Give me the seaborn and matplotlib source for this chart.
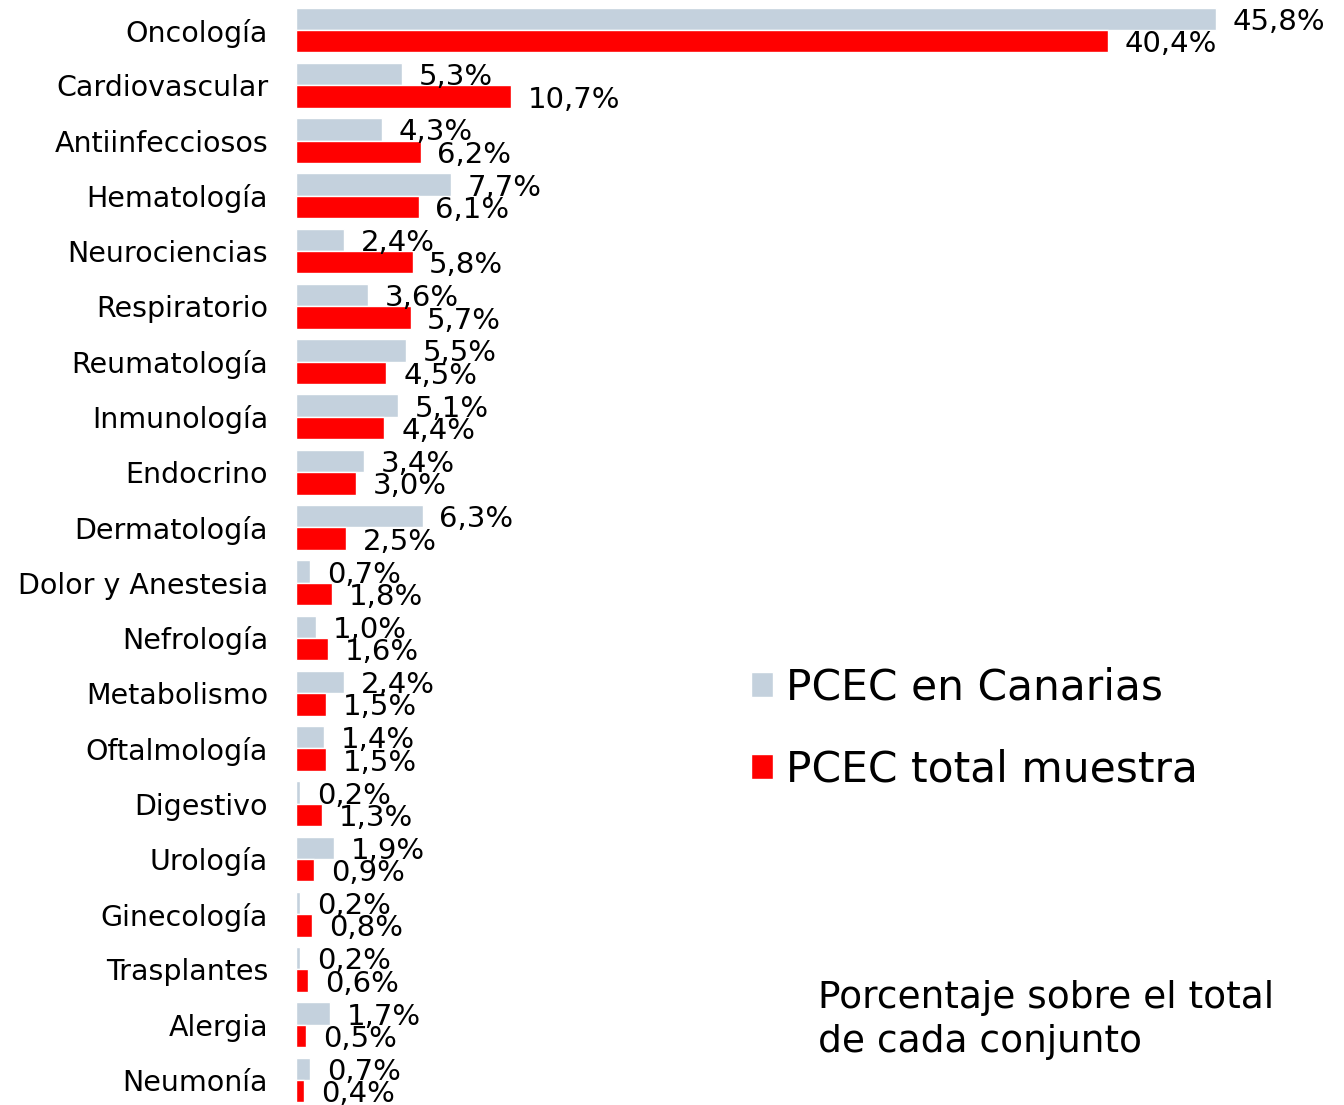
import numpy as np
import pandas as pd
import matplotlib
matplotlib.use("Agg")
import matplotlib.pyplot as plt
import seaborn as sns

categories = ["Oncología", "Cardiovascular", "Antiinfecciosos", "Hematología",
              "Neurociencias", "Respiratorio", "Reumatología", "Inmunología",
              "Endocrino", "Dermatología", "Dolor y Anestesia", "Nefrología",
              "Metabolismo", "Oftalmología", "Digestivo", "Urología",
              "Ginecología", "Trasplantes", "Alergia", "Neumonía"]
canarias = [45.8, 5.3, 4.3, 7.7, 2.4, 3.6, 5.5, 5.1, 3.4, 6.3,
            0.7, 1.0, 2.4, 1.4, 0.2, 1.9, 0.2, 0.2, 1.7, 0.7]
total = [40.4, 10.7, 6.2, 6.1, 5.8, 5.7, 4.5, 4.4, 3.0, 2.5,
         1.8, 1.6, 1.5, 1.5, 1.3, 0.9, 0.8, 0.6, 0.5, 0.4]
series = ["PCEC en Canarias", "PCEC total muestra"]
colors = ["#c4d1dd", "#ff0000"]

df = pd.DataFrame({
    "categoria": categories * 2,
    "valor": canarias + total,
    "serie": [series[0]] * len(categories) + [series[1]] * len(categories),
})

sns.set_style("white")
plt.rcParams['font.family'] = ['DejaVu Sans']
plt.rcParams['text.color'] = 'black'
plt.rcParams['ytick.color'] = 'black'

fig = plt.figure(figsize=(13.44, 11.05), dpi=100)
ax = fig.add_axes([296 / 1344, 2.9 / 1105, 1004.5 / 1344, 1099.7 / 1105])

sns.barplot(data=df, x="valor", y="categoria", hue="serie", orient="h",
            palette=colors, width=0.81, ax=ax, saturation=1)

for cont, vals in zip(ax.containers, [canarias, total]):
    txts = ax.bar_label(cont, labels=[f"{v:.1f}%".replace(".", ",") for v in vals],
                        padding=12, fontsize=21, color="black")
    # labels sit a touch below the bar centre in the original
    for t in txts:
        t.xyann = (12, -2.2)

ax.set_xlim(0, 50)
ax.set_ylim(19.4, -0.5)
ax.set_xlabel("")
ax.set_ylabel("")
ax.set_xticks([])
ax.tick_params(axis="y", length=0, pad=20, labelsize=20.5, labelcolor="black")
sns.despine(ax=ax, left=True, bottom=True)

ax.legend(loc="center left", bbox_to_anchor=(751 / 1344, 1 - 728.5 / 1105),
          bbox_transform=fig.transFigure, frameon=False, fontsize=30.5,
          handlelength=0.52, handleheight=0.52, handletextpad=0.3,
          labelspacing=0.95, borderpad=0, borderaxespad=0)

fig.text(818 / 1344, 1 - 980 / 1105, "Porcentaje sobre el total\nde cada conjunto",
         fontsize=27, va="top", ha="left", linespacing=1.3, color="black")

fig.savefig("out.png", dpi=100)
